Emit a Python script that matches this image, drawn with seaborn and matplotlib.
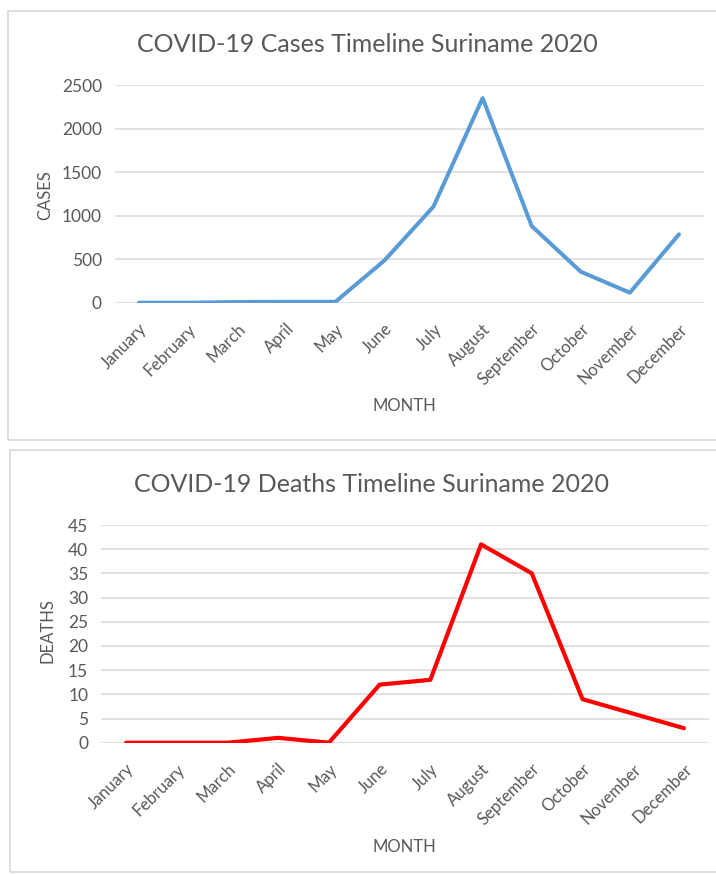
import matplotlib
matplotlib.use("Agg")
import matplotlib.pyplot as plt
import seaborn as sns
import pandas as pd
from matplotlib.patches import Rectangle

months = ["January", "February", "March", "April", "May", "June", "July",
          "August", "September", "October", "November", "December"]
cases = [0, 0, 8, 10, 10, 485, 1105, 2350, 880, 356, 115, 785]
deaths = [0, 0, 0, 1, 0, 12, 13, 41, 35, 9, 6, 3]
cases_ticks = [0, 500, 1000, 1500, 2000, 2500]
deaths_ticks = [0, 5, 10, 15, 20, 25, 30, 35, 40, 45]

sns.set_theme(style="white")
plt.rcParams['font.family'] = ['Lato', 'DejaVu Sans']

W, H = 716, 875
fig = plt.figure(figsize=(W / 100, H / 100), dpi=100)
fig.patch.set_facecolor("white")

TXT = "#595959"
GRID = "#D9D9D9"

# chart borders
fig.patches.append(Rectangle((8 / W, 1 - 440 / H), 720 / W, (440 - 11) / H,
                             transform=fig.transFigure, fill=False,
                             edgecolor=GRID, linewidth=1.2))
fig.patches.append(Rectangle((10 / W, 1 - 872 / H), 720 / W, (872 - 450) / H,
                             transform=fig.transFigure, fill=False,
                             edgecolor=GRID, linewidth=1.2))

df = pd.DataFrame({"month": months, "cases": cases, "deaths": deaths})


def style_axis(ax, ymax, ticks):
    ax.set_xlim(-0.5, len(months) - 0.5)
    ax.set_ylim(0, ymax)
    ax.set_yticks(ticks)
    ax.set_xticks(range(len(months)))
    ax.set_xticklabels(months, rotation=45, ha="right", rotation_mode="anchor")
    ax.tick_params(axis="both", colors=TXT, length=0)
    ax.tick_params(axis="x", pad=13, labelsize=12)
    ax.tick_params(axis="y", pad=9, labelsize=12.5)
    for s in ax.spines.values():
        s.set_visible(False)
    ax.yaxis.grid(True, color=GRID, linewidth=1.1)
    ax.xaxis.grid(False)
    ax.set_axisbelow(True)
    ax.set_xlabel("")
    ax.set_ylabel("")
    ax.set_facecolor("none")


ax1 = fig.add_axes([114.5 / W, 1 - 302.7 / H, (703.5 - 114.5) / W, (302.7 - 85) / H])
sns.lineplot(data=df, x="month", y="cases", sort=False, ax=ax1,
             color="#5B9BD5", linewidth=2.9)
style_axis(ax1, 2500, cases_ticks)

ax2 = fig.add_axes([100.7 / W, 1 - 742.7 / H, (709.3 - 100.7) / W, (742.7 - 525) / H])
sns.lineplot(data=df, x="month", y="deaths", sort=False, ax=ax2,
             color="#FF0000", linewidth=3.0)
style_axis(ax2, 45, deaths_ticks)

fig.text(367 / W, 1 - 45 / H, "COVID-19 Cases Timeline Suriname 2020",
         ha="center", va="center", fontsize=18, color=TXT)
fig.text(371 / W, 1 - 485 / H, "COVID-19 Deaths Timeline Suriname 2020",
         ha="center", va="center", fontsize=18, color=TXT)
fig.text(45 / W, 1 - 195 / H, "CASES", rotation=90, ha="center", va="center",
         fontsize=12, color=TXT)
fig.text(48 / W, 1 - 631 / H, "DEATHS", rotation=90, ha="center", va="center",
         fontsize=12, color=TXT)
fig.text(404 / W, 1 - 406 / H, "MONTH", ha="center", va="center",
         fontsize=12, color=TXT)
fig.text(404 / W, 1 - 847 / H, "MONTH", ha="center", va="center",
         fontsize=12, color=TXT)

fig.savefig("out.png", dpi=100, facecolor="white")
